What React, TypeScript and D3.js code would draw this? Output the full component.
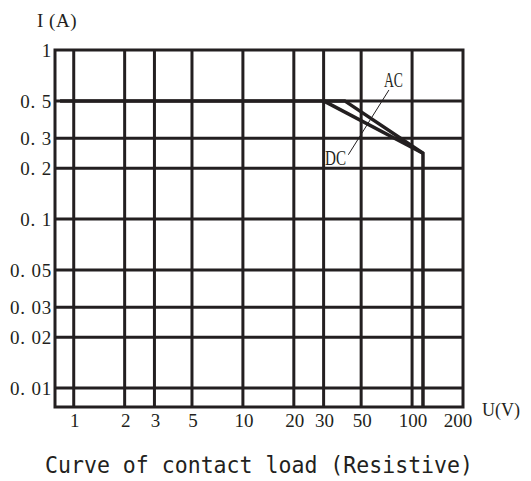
import * as d3 from 'd3';
import React, { useEffect, useRef } from 'react';

// axis values (log scales, both ~170 px per decade)
const xTicks = [1, 2, 3, 5, 10, 20, 30, 50, 100, 200];
const xTickLabels = ['1', '2', '3', '5', '10', '20', '30', '50', '100', '200'];
const yTicks = [1, 0.5, 0.3, 0.2, 0.1, 0.05, 0.03, 0.02, 0.01];
const yTickLabels = ['1', '0. 5', '0. 3', '0. 2', '0. 1', '0. 05', '0. 03', '0. 02', '0. 01'];

const xDomain: [number, number] = [0.775, 200];
const yDomain: [number, number] = [0.00772, 1];

// load curves [U(V), I(A)]
const acCurve: [number, number][] = [
   [0.83, 0.5],
   [40, 0.5],
   [116, 0.245],
   [116, 0.00772],
];
const dcCurve: [number, number][] = [
   [30, 0.5],
   [116, 0.245],
];

// leader line between the AC / DC labels
const leader: [number, number][] = [
   [73, 0.58],
   [42, 0.24],
];

const App = () => {
   const ref = useRef<SVGSVGElement | null>(null);

   useEffect(() => {
      const svg = d3.select(ref.current);
      svg.selectAll('*').remove();

      const x = d3.scaleLog().domain(xDomain).range([55, 463]);
      const y = d3.scaleLog().domain(yDomain).range([407, 50]);
      const ink = '#231f20';
      const serif = '"Liberation Serif", "DejaVu Serif", serif';

      const g = svg.append('g');

      // grid
      xTicks.slice(0, -1).forEach((t) => {
         g.append('line')
            .attr('x1', x(t)).attr('x2', x(t))
            .attr('y1', y(yDomain[1])).attr('y2', y(yDomain[0]))
            .attr('stroke', ink).attr('stroke-width', 3);
      });
      yTicks.slice(1).forEach((t) => {
         g.append('line')
            .attr('x1', x(xDomain[0])).attr('x2', x(xDomain[1]))
            .attr('y1', y(t)).attr('y2', y(t))
            .attr('stroke', ink).attr('stroke-width', 3);
      });
      g.append('rect')
         .attr('x', x(xDomain[0])).attr('y', y(yDomain[1]))
         .attr('width', x(xDomain[1]) - x(xDomain[0]))
         .attr('height', y(yDomain[0]) - y(yDomain[1]))
         .attr('fill', 'none').attr('stroke', ink).attr('stroke-width', 3);

      // curves
      const line = d3.line<[number, number]>().x((d) => x(d[0])).y((d) => y(d[1]));
      [acCurve, dcCurve].forEach((c) => {
         g.append('path')
            .attr('d', line(c))
            .attr('fill', 'none').attr('stroke', ink)
            .attr('stroke-width', 3.5).attr('stroke-linejoin', 'miter');
      });
      g.append('path')
         .attr('d', line(leader))
         .attr('fill', 'none').attr('stroke', ink).attr('stroke-width', 1);

      g.append('text').attr('x', 384).attr('y', 87)
         .attr('textLength', 19).attr('lengthAdjust', 'spacingAndGlyphs')
         .attr('font-family', serif).attr('font-size', 20).attr('fill', ink).text('AC');
      g.append('text').attr('x', 325).attr('y', 165)
         .attr('textLength', 21).attr('lengthAdjust', 'spacingAndGlyphs')
         .attr('font-family', serif).attr('font-size', 20).attr('fill', ink).text('DC');

      // tick labels
      yTicks.forEach((t, i) => {
         g.append('text')
            .attr('x', 52).attr('y', y(t)).attr('dy', '0.36em')
            .attr('text-anchor', 'end').attr('letter-spacing', 0.8)
            .attr('font-family', serif).attr('font-size', 19).attr('fill', ink)
            .text(yTickLabels[i]);
      });
      xTicks.forEach((t, i) => {
         g.append('text')
            .attr('x', Math.min(x(t) + 1, 458)).attr('y', 427)
            .attr('text-anchor', 'middle')
            .attr('font-family', serif).attr('font-size', 19).attr('fill', ink)
            .text(xTickLabels[i]);
      });

      // axis titles
      g.append('text').attr('x', 37).attr('y', 27).attr('letter-spacing', 0.5)
         .attr('font-family', serif).attr('font-size', 19).attr('fill', ink).text('I (A)');
      g.append('text').attr('x', 482).attr('y', 416)
         .attr('textLength', 38).attr('lengthAdjust', 'spacingAndGlyphs')
         .attr('font-family', serif).attr('font-size', 19).attr('fill', ink).text('U(V)');

      g.append('text').attr('x', 45).attr('y', 473)
         .attr('textLength', 428).attr('lengthAdjust', 'spacingAndGlyphs')
         .attr('font-family', '"DejaVu Sans Mono", monospace').attr('font-size', 23)
         .attr('fill', ink).text('Curve of contact load (Resistive)');
   }, []);

   return (
      <svg
         ref={ref}
         width={531}
         height={481}
         style={{ position: 'absolute', left: 0, top: 0, background: '#fff' }}
      />
   );
};

export default App;
